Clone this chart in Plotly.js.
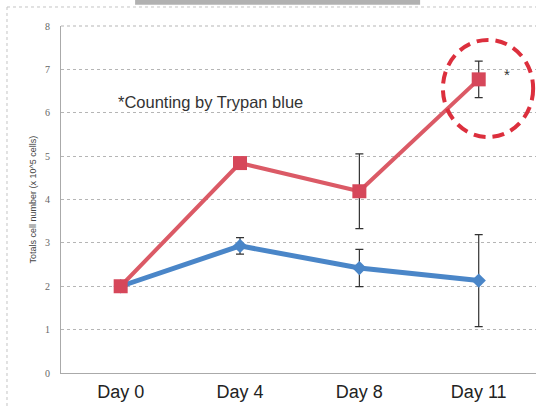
<!DOCTYPE html>
<html>
<head>
<meta charset="utf-8">
<script src="https://cdn.plot.ly/plotly-3.0.1.min.js"></script>
<style>
  html, body { margin: 0; padding: 0; background: #fff; overflow: hidden; }
  #chart { width: 536px; height: 408px; }
</style>
</head>
<body>
<div id="chart"></div>
<script>
// Time points and cell counts (x 10^5 cells)
const days = ["Day 0", "Day 4", "Day 8", "Day 11"];
const treatedCounts = [2.0, 4.84, 4.19, 6.77];
const treatedErr = [0, 0, 0.86, 0.42];
const controlCounts = [2.0, 2.93, 2.42, 2.13];
const controlErr = [0, 0.19, 0.43, 1.06];
const yTicks = [0, 1, 2, 3, 4, 5, 6, 7, 8];

const errStyle = { type: "data", visible: true, color: "#333333", thickness: 1.2, width: 4 };

const traces = [
  {
    x: days, y: controlCounts, type: "scatter", mode: "lines+markers",
    line: { color: "#4a86c8", width: 5 },
    marker: { symbol: "diamond", size: 11, color: "#4a86c8" },
    error_y: Object.assign({ array: controlErr }, errStyle),
    cliponaxis: false
  },
  {
    x: days, y: treatedCounts, type: "scatter", mode: "lines+markers",
    line: { color: "#db5a66", width: 4 },
    marker: { symbol: "square", size: 14, color: "#d6475a" },
    error_y: Object.assign({ array: treatedErr }, errStyle),
    cliponaxis: false
  }
];

const layout = {
  width: 536, height: 408,
  margin: { l: 61, r: 0, t: 26, b: 35 },
  paper_bgcolor: "#ffffff", plot_bgcolor: "#ffffff",
  showlegend: false,
  font: { family: "Liberation Sans, Arial, sans-serif", color: "#222" },
  xaxis: {
    type: "category", range: [-0.5, 3.48],
    showgrid: false, zeroline: false,
    showline: true, linecolor: "#aaaaaa", linewidth: 1,
    ticks: "", tickfont: { size: 18, color: "#222", family: "Liberation Sans, Arial, sans-serif" },
    ticklabelstandoff: 2
  },
  yaxis: {
    range: [0, 8], tickvals: yTicks, ticktext: yTicks.map(String),
    showgrid: true, gridcolor: "#b5b5b5", griddash: "dot", gridwidth: 1,
    zeroline: false, showline: true, linecolor: "#aaaaaa", linewidth: 1,
    ticks: "", tickfont: { size: 10, color: "#666", family: "Liberation Serif, serif" },
    ticklabelstandoff: 8
  },
  shapes: [
    // outer frame
    { type: "line", xref: "paper", yref: "paper", x0: -0.1137, x1: -0.1137, y0: 1.0548, y1: -0.2,
      line: { color: "#c4c4c4", width: 1, dash: "dot" } },
    { type: "line", xref: "paper", yref: "paper", x0: -0.1137, x1: 1.01, y0: 1.0548, y1: 1.0548,
      line: { color: "#c4c4c4", width: 1, dash: "dot" } },
    // top border of plot area
    { type: "line", xref: "paper", yref: "paper", x0: 0, x1: 1, y0: 1, y1: 1,
      line: { color: "#b5b5b5", width: 1, dash: "dot" } },
    // grey band at the top edge
    { type: "rect", xref: "paper", yref: "paper", x0: 0.156, x1: 0.756, y0: 1.061, y1: 1.08,
      fillcolor: "#a3a3a3", line: { width: 0 }, opacity: 0.85 },
    // dashed highlight around the Day 11 point
    { type: "circle", xref: "paper", yref: "paper", x0: 0.804, x1: 0.994, y0: 0.680, y1: 0.960,
      line: { color: "#dc2f3d", width: 4, dash: "12px,7px" } }
  ],
  annotations: [
    { text: "*Counting by Trypan blue", xref: "paper", yref: "paper", x: 0.1158, y: 0.781,
      xanchor: "left", yanchor: "middle", showarrow: false,
      font: { size: 16.5, color: "#333", family: "Liberation Sans, Arial, sans-serif" } },
    { text: "*", xref: "paper", yref: "paper", x: 0.939, y: 0.86,
      xanchor: "center", yanchor: "middle", showarrow: false,
      font: { size: 15, color: "#333" } },
    { text: "Totals cell number (x 10^5 cells)", xref: "paper", yref: "paper", x: -0.059, y: 0.5,
      xanchor: "center", yanchor: "middle", textangle: -90, showarrow: false,
      font: { size: 9, color: "#444", family: "Liberation Sans, Arial, sans-serif" } }
  ]
};

Plotly.newPlot("chart", traces, layout, { displayModeBar: false, staticPlot: true });
</script>
</body>
</html>
